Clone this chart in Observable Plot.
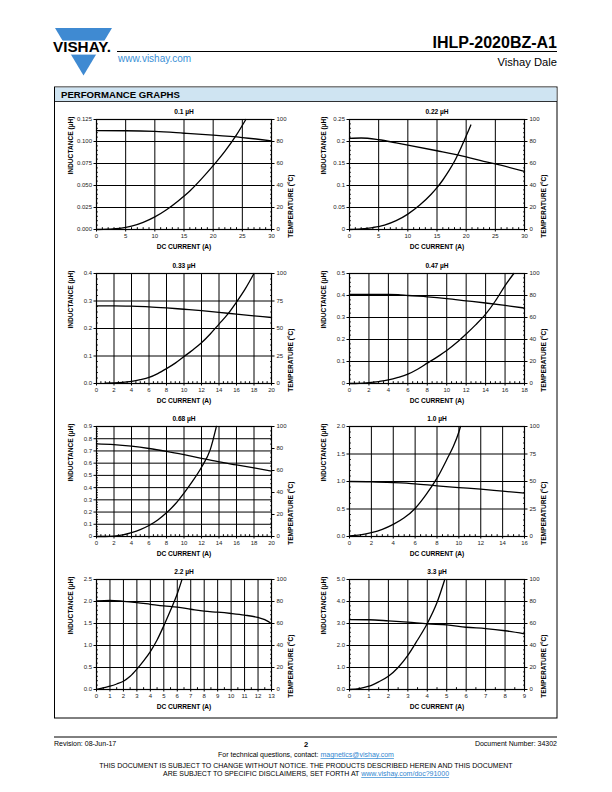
<!DOCTYPE html>
<html><head><meta charset="utf-8">
<script src="https://cdn.jsdelivr.net/npm/d3@7"></script>
<script src="https://cdn.jsdelivr.net/npm/@observablehq/plot@0.6"></script>
<style>
html,body{margin:0;padding:0;background:#fff;}
#page{position:relative;width:612px;height:792px;font-family:"Liberation Sans",Arial,sans-serif;color:#000;overflow:hidden;}
.abs{position:absolute;}
.chart{position:absolute;}
.chart svg{overflow:visible;background:transparent;}
</style></head>
<body><div id="page">
<svg class="abs" style="left:0;top:0" width="612" height="792" font-family="Liberation Sans, Arial, sans-serif">
  <!-- logo -->
  <polygon points="55,28 112,28 83.5,75.5" fill="#3f8ad2"/>
  <rect x="50" y="40.6" width="68" height="14" fill="#fff"/>
  <text x="53" y="52" font-weight="bold" font-size="15" textLength="58" lengthAdjust="spacingAndGlyphs">VISHAY.</text>
  <!-- header -->
  <text x="557" y="48" text-anchor="end" font-weight="bold" font-size="16">IHLP-2020BZ-A1</text>
  <line x1="117" y1="51.5" x2="557" y2="51.5" stroke="#000" stroke-width="1.2"/>
  <text x="118" y="62" font-size="10" fill="#3a8fd6">www.vishay.com</text>
  <text x="557" y="66" text-anchor="end" font-size="11.2">Vishay Dale</text>
  <!-- box -->
  <rect x="54.5" y="87" width="502.5" height="631" fill="#fff" stroke="#000" stroke-width="1"/>
  <rect x="55" y="87.5" width="501.5" height="14" fill="#cfe4f2"/>
  <line x1="54.5" y1="101.5" x2="557" y2="101.5" stroke="#000" stroke-width="0.8"/>
  <text x="61" y="98.2" font-weight="bold" font-size="9.6">PERFORMANCE GRAPHS</text>
  <!-- footer -->
  <line x1="54" y1="737" x2="557" y2="737" stroke="#000" stroke-width="1"/>
  <text x="54" y="746" font-size="7">Revision: 08-Jun-17</text>
  <text x="306" y="747" font-size="7.5" font-weight="bold" text-anchor="middle">2</text>
  <text x="557" y="746" font-size="7" text-anchor="end">Document Number: 34302</text>
  <text x="306" y="757" font-size="7" text-anchor="middle">For technical questions, contact: <tspan fill="#2f86d0" text-decoration="underline">magnetics@vishay.com</tspan></text>
  <text x="306" y="768" font-size="7" text-anchor="middle">THIS DOCUMENT IS SUBJECT TO CHANGE WITHOUT NOTICE. THE PRODUCTS DESCRIBED HEREIN AND THIS DOCUMENT</text>
  <text x="306" y="776" font-size="7" text-anchor="middle">ARE SUBJECT TO SPECIFIC DISCLAIMERS, SET FORTH AT <tspan fill="#2f86d0" text-decoration="underline">www.vishay.com/doc?91000</tspan></text>
</svg>
</div>
<script>
// ---------- DATA ----------
// Chart titles
const titles = ["0.1 µH", "0.22 µH", "0.33 µH", "0.47 µH", "0.68 µH", "1.0 µH", "2.2 µH", "3.3 µH"];

// 0.1 µH
const c1_xLabels = ["0","5","10","15","20","25","30"];
const c1_yLabels = ["0.000","0.025","0.050","0.075","0.100","0.125"];
const c1_tLabels = ["0","20","40","60","80","100"];
const c1_Lx = [0,5,10,15,20,25,30];
const c1_L  = [0.1123,0.1122,0.1114,0.1094,0.1072,0.1045,0.1008];
const c1_Tx = [0,2,4,6,8,10,12,14,16,18,20,22,24,25.6];
const c1_T  = [0,0.3,1,3,6.5,11.5,18,26,35,46,58,71,86,100];

// 0.22 µH
const c2_xLabels = ["0","5","10","15","20","25","30"];
const c2_yLabels = ["0","0.05","0.1","0.15","0.2","0.25"];
const c2_tLabels = ["0","20","40","60","80","100"];
const c2_Lx = [0,2,5,8,10,15,20,23,25,30];
const c2_L  = [0.207,0.208,0.204,0.197,0.192,0.179,0.165,0.155,0.149,0.132];
const c2_Tx = [0,2,4,6,8,10,12,14,15,16,17,18,19,20,20.8];
const c2_T  = [0,0.5,1.8,4,8,14,22,32,38,45,53,62,73,85,95];

// 0.33 µH
const c3_xLabels = ["0","2","4","6","8","10","12","14","16","18","20"];
const c3_yLabels = ["0.0","0.1","0.2","0.3","0.4"];
const c3_tLabels = ["0","25","50","75","100"];
const c3_Lx = [0,2,4,6,8,10,12,14,16,18,20];
const c3_L  = [0.282,0.282,0.281,0.279,0.275,0.270,0.265,0.259,0.252,0.246,0.240];
const c3_Tx = [1,2,3,4,5,6,7,8,9,10,11,12,13,14,15,16,17,18];
const c3_T  = [0.3,0.5,1,2,3.5,5.5,9,13.5,18.5,24.5,30.5,37,45,54,63,74,86,100];

// 0.47 µH
const c4_xLabels = ["0","2","4","6","8","10","12","14","16","18"];
const c4_yLabels = ["0","0.1","0.2","0.3","0.4","0.5"];
const c4_tLabels = ["0","20","40","60","80","100"];
const c4_Lx = [0,2,4,5,6,8,10,12,14,16,18];
const c4_L  = [0.405,0.405,0.405,0.404,0.400,0.394,0.386,0.376,0.366,0.355,0.343];
const c4_Tx = [0,1,2,3,4,5,6,7,8,9,10,11,12,13,14,15,16,16.9];
const c4_T  = [0,0.2,0.8,1.8,3.2,5.5,8.5,13,18.5,24,30,37,45,53.5,63,75,89,100];

// 0.68 µH
const c5_xLabels = ["0","2","4","6","8","10","12","14","16","18","20"];
const c5_yLabels = ["0","0.1","0.2","0.3","0.4","0.5","0.6","0.7","0.8","0.9"];
const c5_tLabels = ["0","20","40","60","80","100"];
const c5_Lx = [0,2,4,6,8,10,12,14,16,18,20];
const c5_L  = [0.758,0.752,0.739,0.720,0.696,0.669,0.640,0.610,0.586,0.561,0.535];
const c5_Tx = [0,1,2,3,4,5,6,7,8,9,10,11,12,13,13.7];
const c5_T  = [0,0,0.3,1.5,3.6,6.3,10,15,21.5,29.5,39.5,50.5,63,79,100];

// 1.0 µH
const c6_xLabels = ["0","2","4","6","8","10","12","14","16"];
const c6_yLabels = ["0.0","0.5","1.0","1.5","2.0"];
const c6_tLabels = ["0","25","50","75","100"];
const c6_Lx = [0,2,4,6,8,10,12,14,16];
const c6_L  = [1.0,0.995,0.98,0.958,0.921,0.89,0.86,0.824,0.79];
const c6_Tx = [0,1,2,3,4,5,6,7,8,9,9.5,10,10.15];
const c6_T  = [0.5,1.5,3.5,6.5,11,17,25.5,38,53,72,82,95,100];

// 2.2 µH
const c7_xLabels = ["0","1","2","3","4","5","6","7","8","9","10","11","12","13"];
const c7_yLabels = ["0.0","0.5","1.0","1.5","2.0","2.5"];
const c7_tLabels = ["0","20","40","60","80","100"];
const c7_Lx = [0,1,2,3,4,5,6,7,8,9,10,11,12,12.5,13];
const c7_L  = [2.012,2.027,2.005,1.974,1.937,1.90,1.87,1.824,1.78,1.757,1.727,1.69,1.637,1.59,1.50];
const c7_Tx = [0,0.5,1,1.5,2,2.5,3,3.5,4,4.5,5,5.5,6,6.35];
const c7_T  = [0,1.5,3,5,7.5,12,18.5,26,34.5,45,58,72,87,100];

// 3.3 µH
const c8_xLabels = ["0","1","2","3","4","5","6","7","8","9"];
const c8_yLabels = ["0.0","1.0","2.0","3.0","4.0","5.0"];
const c8_tLabels = ["0","20","40","60","80","100"];
const c8_Lx = [0,1,2,3,4,5,6,7,8,9];
const c8_L  = [3.18,3.17,3.12,3.06,2.985,2.94,2.83,2.77,2.67,2.53];
const c8_Tx = [0,0.5,1,1.5,2,2.5,3,3.5,4,4.5,4.9];
const c8_T  = [0,0.8,3,7,12,20,31,45,60,79,100];

// ---------- CHART BUILDER ----------
function subdivide(ticks, n) {
  const out = [];
  for (let i = 0; i < ticks.length - 1; i++) {
    const a = ticks[i], b = ticks[i + 1];
    for (let j = 1; j < n; j++) out.push(a + (b - a) * j / n);
  }
  return out;
}

function makeChart(title, xLabels, yLabels, tLabels, Lx, L, Tx, T, xDiv) {
  const xt = xLabels.map(Number), yt = yLabels.map(Number), tt = tLabels.map(Number);
  const xMax = xt[xt.length - 1], yMax = yt[yt.length - 1], tMax = tt[tt.length - 1];
  const k = yMax / tMax;
  const tPos = tt.map(t => t * k);
  const labelAt = (vals, labels) => d => {
    let best = 0, bd = Infinity;
    vals.forEach((v, i) => { const dd = Math.abs(v - d); if (dd < bd) { bd = dd; best = i; } });
    return labels[best];
  };
  const indData = Lx.map((x, i) => ({current: x, value: L[i]}));
  const tempData = Tx.map((x, i) => ({current: x, value: T[i] * k}));
  const lab = {fontWeight: "bold", fontSize: 6.6, lineAnchor: "middle", fill: "#000"};
  return Plot.plot({
    width: 250, height: 158,
    marginLeft: 40, marginRight: 35, marginTop: 18, marginBottom: 30,
    style: {fontFamily: "Liberation Sans, Arial, sans-serif", fontSize: "6px", color: "#000", background: "transparent", overflow: "visible"},
    x: {domain: [0, xMax], label: null},
    y: {domain: [0, yMax], label: null},
    marks: [
      Plot.ruleX(xt.slice(1, -1), {stroke: "#000", strokeWidth: 1}),
      Plot.ruleY(yt.slice(1, -1), {stroke: "#000", strokeWidth: 1}),
      Plot.line(indData, {x: "current", y: "value", curve: "monotone-x", stroke: "#000", strokeWidth: 1.3}),
      Plot.line(tempData, {x: "current", y: "value", curve: "monotone-x", stroke: "#000", strokeWidth: 1.3}),
      Plot.frame({stroke: "#000", strokeWidth: 1.2}),
      Plot.axisX({ticks: xt, tickSize: 2.5, tickPadding: 1.5, tickFormat: labelAt(xt, xLabels), fill: "#222", label: null}),
      Plot.axisX({ticks: subdivide(xt, xDiv), tickSize: -1.8, tickFormat: () => "", label: null}),
      Plot.axisY({anchor: "left", ticks: yt, tickSize: 2.5, tickPadding: 2, tickFormat: labelAt(yt, yLabels), fill: "#222", label: null}),
      Plot.axisY({anchor: "left", ticks: subdivide(yt, 5), tickSize: -1.8, tickFormat: () => "", label: null}),
      Plot.axisY({anchor: "right", ticks: tPos, tickSize: 2.5, tickPadding: 2.5, tickFormat: labelAt(tPos, tLabels), fill: "#222", label: null}),
      Plot.axisY({anchor: "right", ticks: subdivide(tPos, 5), tickSize: -1.8, tickFormat: () => "", label: null}),
      Plot.text([title], {frameAnchor: "top", dy: -8, ...lab}),
      Plot.text(["INDUCTANCE (µH)"], {frameAnchor: "left", rotate: -90, dx: -26, ...lab}),
      Plot.text(["TEMPERATURE (°C)"], {frameAnchor: "right", rotate: -90, dx: 19, ...lab}),
      Plot.text(["DC CURRENT (A)"], {frameAnchor: "bottom", dy: 17, ...lab})
    ]
  });
}

const specs = [
  [titles[0], c1_xLabels, c1_yLabels, c1_tLabels, c1_Lx, c1_L, c1_Tx, c1_T, 5],
  [titles[1], c2_xLabels, c2_yLabels, c2_tLabels, c2_Lx, c2_L, c2_Tx, c2_T, 5],
  [titles[2], c3_xLabels, c3_yLabels, c3_tLabels, c3_Lx, c3_L, c3_Tx, c3_T, 4],
  [titles[3], c4_xLabels, c4_yLabels, c4_tLabels, c4_Lx, c4_L, c4_Tx, c4_T, 4],
  [titles[4], c5_xLabels, c5_yLabels, c5_tLabels, c5_Lx, c5_L, c5_Tx, c5_T, 4],
  [titles[5], c6_xLabels, c6_yLabels, c6_tLabels, c6_Lx, c6_L, c6_Tx, c6_T, 4],
  [titles[6], c7_xLabels, c7_yLabels, c7_tLabels, c7_Lx, c7_L, c7_Tx, c7_T, 2],
  [titles[7], c8_xLabels, c8_yLabels, c8_tLabels, c8_Lx, c8_L, c8_Tx, c8_T, 2]
];
const colLeft = [56, 309];
const rowTop = [101, 255, 408, 561];
const page = document.getElementById("page");
specs.forEach((s, i) => {
  const div = document.createElement("div");
  div.className = "chart";
  div.style.left = colLeft[i % 2] + "px";
  div.style.top = rowTop[Math.floor(i / 2)] + "px";
  div.appendChild(makeChart(...s));
  page.appendChild(div);
});
</script>
</body></html>
